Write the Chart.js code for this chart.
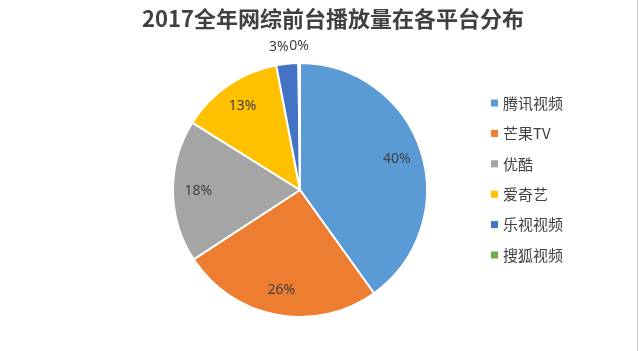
<!DOCTYPE html>
<html>
<head>
<meta charset="utf-8">
<script src="https://cdn.jsdelivr.net/npm/chart.js@4/dist/chart.umd.min.js"></script>
<style>
html,body{margin:0;padding:0;background:#fff;}
#wrap{position:relative;width:640px;height:351px;}
#edge{position:absolute;left:637px;top:0;width:1px;height:351px;background:#cfcfcf;}
</style>
</head>
<body>
<div id="wrap"><canvas id="c" width="640" height="351"></canvas><div id="edge"></div></div>
<script>
const titleText = '2017全年网综前台播放量在各平台分布';
const categories = ['腾讯视频', '芒果TV', '优酷', '爱奇艺', '乐视视频', '搜狐视频'];
const shares = [40.1, 25.7, 18.1, 13.1, 2.8, 0.2];
const colors = ['#5B9BD5', '#ED7D31', '#A5A5A5', '#FFC000', '#4472C4', '#70AD47'];

const TEXT = '#404040';

const titlePlugin = {
  id: 'titleDraw',
  afterDraw(chart) {
    const ctx = chart.ctx;
    ctx.save();
    ctx.font = 'bold 22px "Noto Sans CJK SC", "Noto Sans", sans-serif';
    ctx.fillStyle = TEXT;
    ctx.textAlign = 'center';
    ctx.textBaseline = 'middle';
    ctx.fillText(titleText, 333, 19);
    ctx.restore();
  }
};

const labelPlugin = {
  id: 'sliceLabels',
  afterDatasetsDraw(chart) {
    const ctx = chart.ctx;
    const meta = chart.getDatasetMeta(0);
    const data = chart.data.datasets[0].data;
    ctx.save();
    ctx.font = '14px "Noto Sans", "Open Sans", sans-serif';
    ctx.fillStyle = TEXT;
    ctx.textBaseline = 'middle';
    meta.data.forEach((arc, i) => {
      const p = arc.getProps(['x', 'y', 'startAngle', 'endAngle', 'outerRadius'], true);
      const mid = (p.startAngle + p.endAngle) / 2;
      const txt = Math.round(data[i]) + '%';
      const c = Math.cos(mid), s = Math.sin(mid);
      if (data[i] >= 5) {
        const r = p.outerRadius * 0.8;
        ctx.textAlign = 'center';
        ctx.fillText(txt, p.x + c * r, p.y + s * r);
      } else {
        const r = p.outerRadius + 17;
        let x = p.x + c * r;
        const y = p.y + s * r;
        if (c < -0.05) { ctx.textAlign = 'right'; x += 3; }
        else if (c > 0.05) ctx.textAlign = 'left';
        else ctx.textAlign = 'center';
        ctx.fillText(txt, x, y);
      }
    });
    ctx.restore();
  }
};

const legendPlugin = {
  id: 'sideLegend',
  afterDraw(chart) {
    const ctx = chart.ctx;
    const labels = chart.data.labels;
    const bg = chart.data.datasets[0].backgroundColor;
    ctx.save();
    ctx.font = '15px "Noto Sans CJK SC", sans-serif';
    ctx.textBaseline = 'middle';
    ctx.textAlign = 'left';
    const x0 = 491, y0 = 103, step = 30.4;
    labels.forEach((lab, i) => {
      const y = y0 + i * step;
      ctx.fillStyle = bg[i];
      ctx.fillRect(x0, y - 3.5, 7, 7);
      ctx.fillStyle = TEXT;
      ctx.fillText(lab, x0 + 12, y);
    });
    ctx.restore();
  }
};

new Chart(document.getElementById('c'), {
  type: 'pie',
  data: {
    labels: categories,
    datasets: [{
      data: shares,
      backgroundColor: colors,
      borderColor: '#ffffff',
      borderWidth: 2
    }]
  },
  options: {
    responsive: false,
    animation: false,
    layout: { padding: { left: 172, right: 212, top: 62, bottom: 33 } },
    plugins: {
      legend: { display: false },
      title: { display: false },
      tooltip: { enabled: false }
    }
  },
  plugins: [titlePlugin, labelPlugin, legendPlugin]
});
</script>
</body>
</html>
